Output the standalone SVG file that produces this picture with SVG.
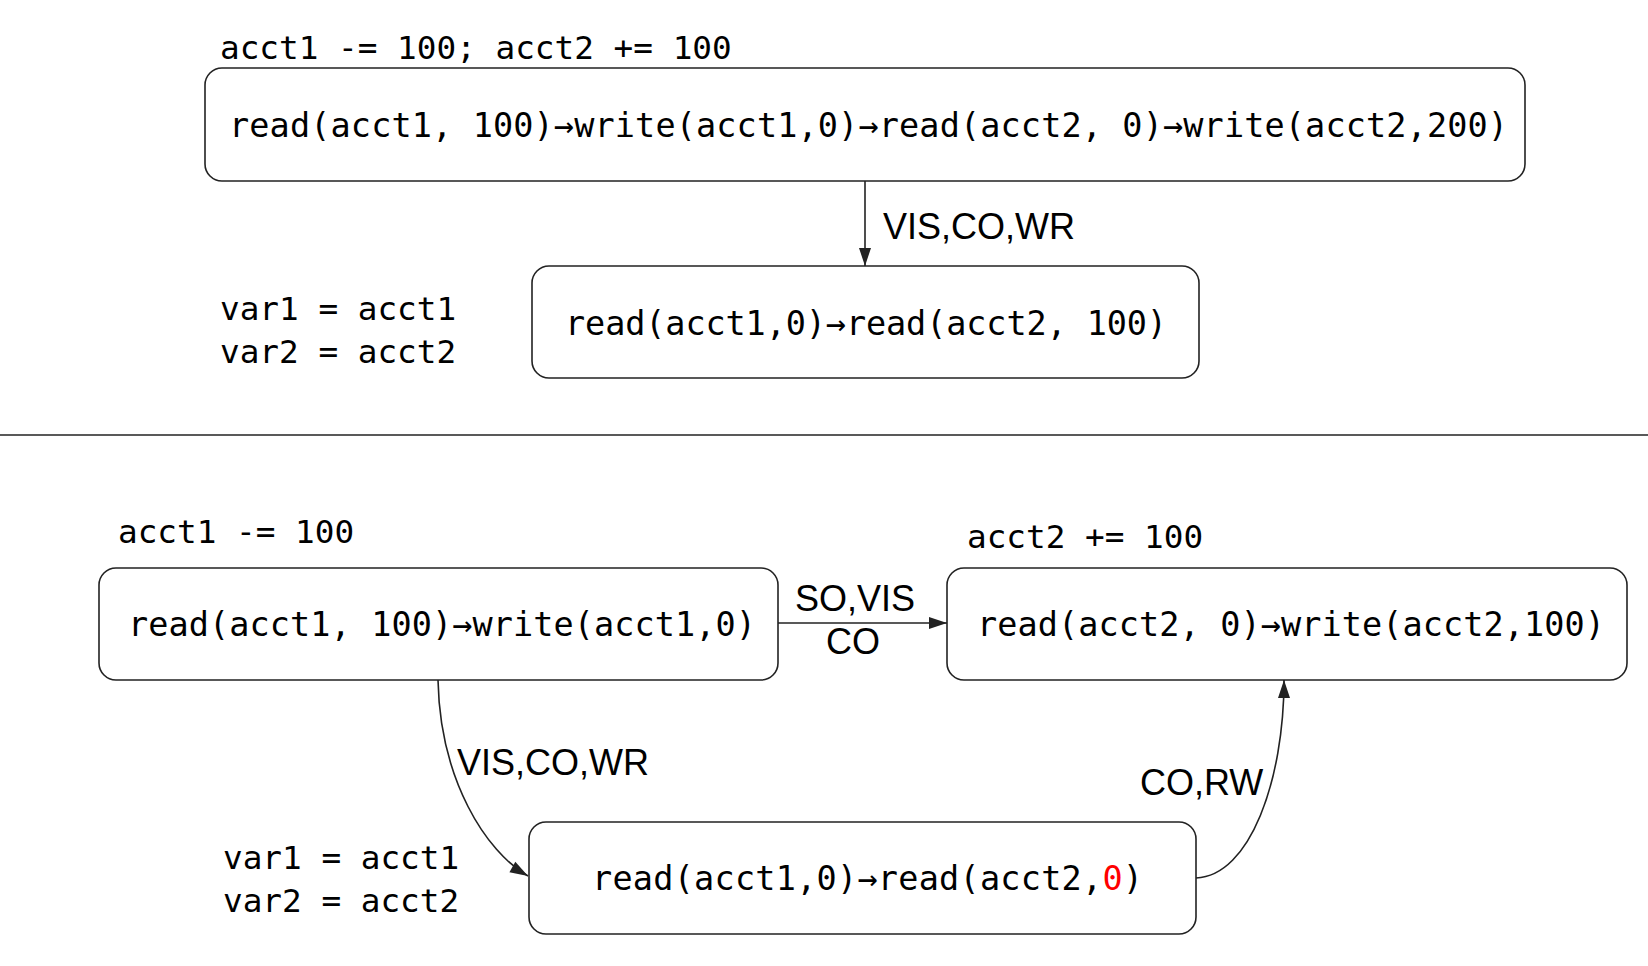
<svg xmlns="http://www.w3.org/2000/svg" width="1648" height="966" viewBox="0 0 1648 966">
<style>
.box{fill:#fff;stroke:#222;stroke-width:1.6}
.mono{font-family:"DejaVu Sans Mono","Liberation Mono",monospace;fill:#000}
.bt{font-size:33.5px}
.lt{font-size:32.7px}
.sans{font-family:"Liberation Sans",Arial,sans-serif;font-size:36px;fill:#000}
.edge{fill:none;stroke:#222;stroke-width:1.6}
</style>
<defs>
<marker id="ah" markerUnits="userSpaceOnUse" markerWidth="20" markerHeight="20" viewBox="0 0 20 20" refX="19" refY="10" orient="auto">
<path d="M1,4 L19,10 L1,16 Z" fill="#222"/>
</marker>
</defs>
<rect width="1648" height="966" fill="#fff"/>

<g id="top-label">
<text class="mono lt" x="220" y="59">acct1 -= 100; acct2 += 100</text>
</g>
<g id="top-txn">
<rect class="box" x="205" y="68" width="1320" height="113" rx="17"/>
<text class="mono bt" x="229" y="137" textLength="1279">read(acct1, 100)→write(acct1,0)→read(acct2, 0)→write(acct2,200)</text>
</g>
<g id="top-read">
<rect class="box" x="532" y="266" width="667" height="112" rx="17"/>
<text class="mono bt" x="565" y="335" textLength="602">read(acct1,0)→read(acct2, 100)</text>
</g>
<g id="top-vars">
<text class="mono lt" x="220" y="320">var1 = acct1</text>
<text class="mono lt" x="220" y="363">var2 = acct2</text>
</g>

<line x1="0" y1="435" x2="1648" y2="435" stroke="#222" stroke-width="1.6"/>

<g id="label-a">
<text class="mono lt" x="118" y="543">acct1 -= 100</text>
</g>
<g id="txn-a">
<rect class="box" x="99" y="568" width="679" height="112" rx="17"/>
<text class="mono bt" x="128" y="636" textLength="628">read(acct1, 100)→write(acct1,0)</text>
</g>
<g id="label-b">
<text class="mono lt" x="967" y="548">acct2 += 100</text>
</g>
<g id="txn-b">
<rect class="box" x="947" y="568" width="680" height="112" rx="17"/>
<text class="mono bt" x="977" y="636" textLength="628">read(acct2, 0)→write(acct2,100)</text>
</g>
<g id="txn-c">
<rect class="box" x="529" y="822" width="667" height="112" rx="17"/>
<text class="mono bt" x="592" y="890" textLength="551">read(acct1,0)→read(acct2,<tspan fill="#ff0000">0</tspan>)</text>
</g>
<g id="bottom-vars">
<text class="mono lt" x="223" y="869">var1 = acct1</text>
<text class="mono lt" x="223" y="912">var2 = acct2</text>
</g>

<g id="connectors">
<line class="edge" x1="865" y1="181" x2="865" y2="266" marker-end="url(#ah)"/>
<text class="sans" x="883" y="239">VIS,CO,WR</text>

<line class="edge" x1="778" y1="623" x2="947" y2="623" marker-end="url(#ah)"/>
<text class="sans" x="855" y="611" text-anchor="middle">SO,VIS</text>
<text class="sans" x="853" y="654" text-anchor="middle">CO</text>

<path class="edge" d="M438,680 C440,780 486,852 528,876" marker-end="url(#ah)"/>
<text class="sans" x="457" y="775">VIS,CO,WR</text>

<path class="edge" d="M1196,878 C1250,876 1284,780 1284,680" marker-end="url(#ah)"/>
<text class="sans" x="1140" y="795">CO,RW</text>
</g>
</svg>
